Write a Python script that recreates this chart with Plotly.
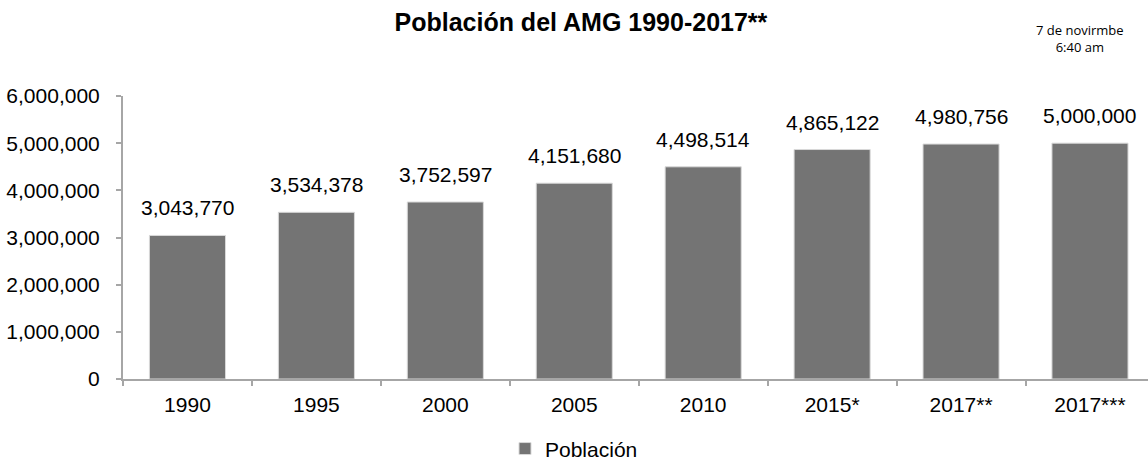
import plotly.graph_objects as go

# data
categorias = ["1990", "1995", "2000", "2005", "2010", "2015*", "2017**", "2017***"]
poblacion = [3043770, 3534378, 3752597, 4151680, 4498514, 4865122, 4980756, 5000000]
y_ticks = [0, 1000000, 2000000, 3000000, 4000000, 5000000, 6000000]

FONT = "Liberation Sans, Arial, sans-serif"
AXIS_C = "#a6a6a6"
TXT = "#000000"

fig = go.Figure()
fig.add_trace(go.Bar(
    x=categorias, y=poblacion, name="Población",
    marker=dict(color="#747474", line=dict(color="#d9d9d9", width=1)),
))

# value labels above the bars (x by category index: "1990" etc. would be read as numbers)
for i, val in enumerate(poblacion):
    fig.add_annotation(x=i, y=val, text=f"{val:,}", showarrow=False, yanchor="bottom",
                       yshift=14, font=dict(family=FONT, size=21, color=TXT))

fig.add_annotation(
    xref="paper", yref="paper", x=0.934, y=1.204, xanchor="center", yanchor="middle",
    text="7 de novirmbe<br>6:40 am", showarrow=False, align="center",
    font=dict(family="Open Sans, sans-serif", size=13, color=TXT),
)

fig.update_layout(
    width=1148, height=470,
    paper_bgcolor="white", plot_bgcolor="white",
    margin=dict(l=123, r=0, t=96, b=82),
    title=dict(text="<b>Población del AMG 1990-2017**</b>", x=0.506, xanchor="center",
               y=0.953, yanchor="middle", font=dict(family=FONT, size=25, color=TXT)),
    bargap=0.41,
    showlegend=True,
    legend=dict(orientation="h", xref="paper", yref="paper", x=0.44, xanchor="center",
                y=-0.247, yanchor="middle", font=dict(family=FONT, size=21, color=TXT),
                itemwidth=30),
    font=dict(family=FONT, size=21, color=TXT),
)
fig.update_xaxes(
    type="category", range=[-0.5, 7.45], showline=True, linecolor=AXIS_C, linewidth=2,
    ticks="outside", tickson="boundaries", ticklen=5, tickcolor=AXIS_C, tickwidth=2,
    showgrid=False, tickfont=dict(family=FONT, size=21, color=TXT), ticklabelstandoff=6,
)
fig.update_yaxes(
    range=[0, 6000000], tickvals=y_ticks, tickformat=",d", showline=True, linecolor=AXIS_C,
    linewidth=2, ticks="outside", ticklen=5, tickcolor=AXIS_C, tickwidth=2, showgrid=False,
    zeroline=False, tickfont=dict(family=FONT, size=21, color=TXT), ticklabelstandoff=12,
)

# drop the default page margin so the figure sits at the window's top-left corner
fig.write_html("out.html", config={"displayModeBar": False},
               post_script="document.body.style.margin='0';")
